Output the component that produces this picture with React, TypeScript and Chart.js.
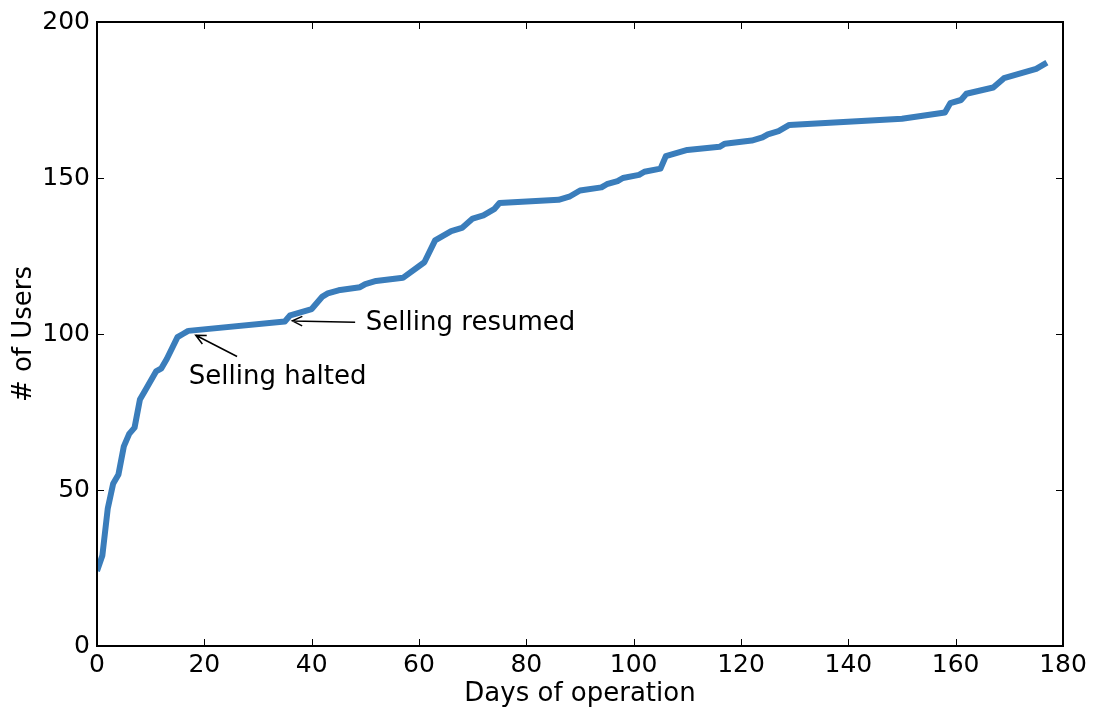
import React, { useEffect, useRef } from 'react';
import { Chart, registerables } from 'chart.js';

Chart.register(...registerables);

const days = [0, 1, 2, 3, 4, 5, 6, 7, 8, 9, 11, 12, 13, 15, 16, 17, 35, 36, 40, 42, 43, 45, 49, 50, 52, 57, 61, 63, 66, 68, 70, 72, 74, 75, 86, 88, 90, 94, 95, 97, 98, 101, 102, 105, 106, 110, 116, 117, 122, 124, 125, 127, 129, 150, 158, 159, 161, 162, 167, 169, 175, 177];
const users = [24, 29, 44, 52, 55, 64, 68, 70, 79, 82, 88, 89, 92, 99, 100, 101, 104, 106, 108, 112, 113, 114, 115, 116, 117, 118, 123, 130, 133, 134, 137, 138, 140, 142, 143, 144, 146, 147, 148, 149, 150, 151, 152, 153, 157, 159, 160, 161, 162, 163, 164, 165, 167, 169, 171, 174, 175, 177, 179, 182, 185, 187];

const xTicks = [0, 20, 40, 60, 80, 100, 120, 140, 160, 180];
const yTicks = [0, 50, 100, 150, 200];

const xLabel = 'Days of operation';
const yLabel = '# of Users';

const haltedText = 'Selling halted';
const resumedText = 'Selling resumed';

const FONT = "'DejaVu Sans', sans-serif";
const LINE_COLOR = '#3a7dbb';

function arrow(ctx: CanvasRenderingContext2D, x1: number, y1: number, x2: number, y2: number) {
  ctx.beginPath();
  ctx.moveTo(x1, y1);
  ctx.lineTo(x2, y2);
  const ang = Math.atan2(y2 - y1, x2 - x1);
  const len = 11;
  const spread = 0.45;
  ctx.moveTo(x2 - len * Math.cos(ang - spread), y2 - len * Math.sin(ang - spread));
  ctx.lineTo(x2, y2);
  ctx.lineTo(x2 - len * Math.cos(ang + spread), y2 - len * Math.sin(ang + spread));
  ctx.stroke();
}

const framePlugin = {
  id: 'frameTicks',
  afterDraw(chart: any) {
    const { ctx, chartArea } = chart;
    const xs = chart.scales.x;
    const ys = chart.scales.y;
    const { left, right, top, bottom } = chartArea;
    ctx.save();
    ctx.strokeStyle = '#000';
    ctx.lineWidth = 1;
    const tl = 7;
    xTicks.forEach((v) => {
      const px = Math.round(xs.getPixelForValue(v)) + 0.5;
      ctx.beginPath();
      ctx.moveTo(px, bottom);
      ctx.lineTo(px, bottom - tl);
      ctx.moveTo(px, top);
      ctx.lineTo(px, top + tl);
      ctx.stroke();
    });
    yTicks.forEach((v) => {
      const py = Math.round(ys.getPixelForValue(v)) + 0.5;
      ctx.beginPath();
      ctx.moveTo(left, py);
      ctx.lineTo(left + tl, py);
      ctx.moveTo(right, py);
      ctx.lineTo(right - tl, py);
      ctx.stroke();
    });
    ctx.lineWidth = 2;
    ctx.strokeRect(left, top, right - left, bottom - top);

    // annotations
    ctx.fillStyle = '#000';
    ctx.font = `26px ${FONT}`;
    ctx.textBaseline = 'middle';
    ctx.textAlign = 'left';
    ctx.fillText(haltedText, xs.getPixelForValue(17.1), ys.getPixelForValue(86.0));
    ctx.fillText(resumedText, xs.getPixelForValue(50.1), ys.getPixelForValue(103.4));
    ctx.lineWidth = 1.5;
    arrow(ctx, xs.getPixelForValue(26.1), ys.getPixelForValue(92.8), xs.getPixelForValue(18.4), ys.getPixelForValue(99.6));
    arrow(ctx, xs.getPixelForValue(48.1), ys.getPixelForValue(103.8), xs.getPixelForValue(36.4), ys.getPixelForValue(104.2));
    ctx.restore();
  },
};

export default function App() {
  const canvasRef = useRef<HTMLCanvasElement | null>(null);

  useEffect(() => {
    document.body.style.margin = '0';
    const canvas = canvasRef.current;
    if (!canvas) return;
    const data = days.map((d, i) => ({ x: d, y: users[i] }));
    const chart = new Chart(canvas, {
      type: 'line',
      data: {
        datasets: [
          {
            data,
            borderColor: LINE_COLOR,
            borderWidth: 6,
            pointRadius: 0,
            fill: false,
            tension: 0,
            borderJoinStyle: 'round',
            borderCapStyle: 'butt',
          },
        ],
      },
      options: {
        responsive: false,
        animation: false,
        devicePixelRatio: 1,
        layout: { padding: { left: 0, top: 22, right: 31, bottom: 0 } },
        plugins: { legend: { display: false }, tooltip: { enabled: false } },
        scales: {
          x: {
            type: 'linear',
            min: 0,
            max: 180,
            afterBuildTicks: (s: any) => {
              s.ticks = xTicks.map((v) => ({ value: v }));
            },
            afterFit: (s: any) => {
              s.height = 66;
            },
            grid: { display: false, drawTicks: false },
            border: { display: false },
            ticks: { color: '#000', font: { family: FONT, size: 25 }, padding: 4, maxRotation: 0 },
            title: { display: true, text: xLabel, color: '#000', font: { family: FONT, size: 26 }, padding: { top: 0, bottom: 2 } },
          },
          y: {
            type: 'linear',
            min: 0,
            max: 200,
            afterBuildTicks: (s: any) => {
              s.ticks = yTicks.map((v) => ({ value: v }));
            },
            afterFit: (s: any) => {
              s.width = 97;
            },
            grid: { display: false, drawTicks: false },
            border: { display: false },
            ticks: { color: '#000', font: { family: FONT, size: 25 }, padding: 7 },
            title: { display: true, text: yLabel, color: '#000', font: { family: FONT, size: 26 }, padding: { top: 9, bottom: 0 } },
          },
        },
      },
      plugins: [framePlugin],
    });
    return () => chart.destroy();
  }, []);

  return (
    <div style={{ position: 'absolute', left: 0, top: 0, width: 1094, height: 712, background: '#fff' }}>
      <canvas ref={canvasRef} width={1094} height={712} style={{ width: 1094, height: 712 }} />
    </div>
  );
}
